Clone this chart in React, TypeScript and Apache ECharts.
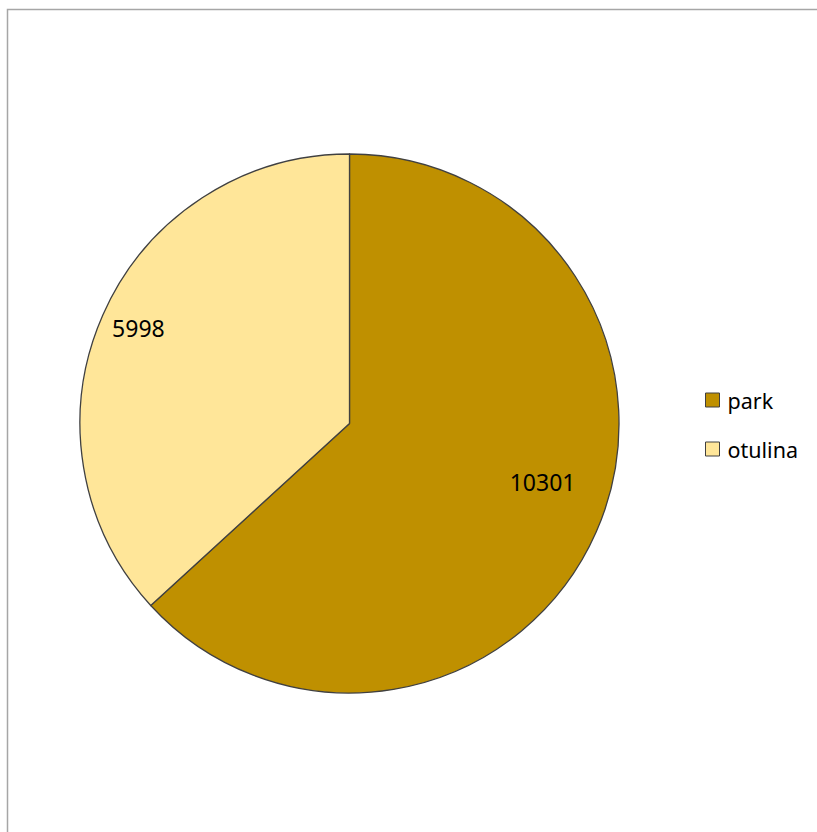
import React, { useEffect, useRef } from "react";
import * as echarts from "echarts";

const categories = ["park", "otulina"];
const values = [10301, 5998];
const colors = ["#BF9000", "#FFE699"];

export default function App() {
  const ref = useRef<HTMLDivElement>(null);
  useEffect(() => {
    if (!ref.current) return;
    const chart = echarts.init(ref.current, null, { renderer: "svg" });
    const labelOffsets = [
      [67, 3],
      [-85, -40],
    ];
    chart.setOption({
      animation: false,
      backgroundColor: "#ffffff",
      graphic: [
        {
          type: "rect",
          shape: { x: 7.5, y: 9.5, width: 900, height: 900 },
          style: { fill: "none", stroke: "#a6a6a6", lineWidth: 1.5 },
          silent: true,
        },
      ],
      legend: {
        orient: "vertical",
        left: 705,
        top: 389,
        padding: 0,
        itemWidth: 14,
        itemHeight: 14,
        itemGap: 27,
        icon: "rect",
        data: categories,
        textStyle: {
          fontFamily: "Noto Sans",
          fontSize: 21.5,
          color: "#000000",
          padding: [0, 0, 0, 3],
        },
        itemStyle: { borderColor: "#404040", borderWidth: 1 },
      },
      series: [
        {
          type: "pie",
          center: [349.5, 423.5],
          radius: 269.5,
          startAngle: 90,
          clockwise: true,
          avoidLabelOverlap: false,
          itemStyle: { borderColor: "#404040", borderWidth: 1.3 },
          emphasis: { disabled: true },
          label: {
            show: true,
            position: "inside",
            formatter: "{c}",
            fontFamily: "Noto Sans",
            fontSize: 23,
            color: "#000000",
          },
          labelLine: { show: false },
          data: categories.map((name, i) => ({
            name,
            value: values[i],
            itemStyle: { color: colors[i] },
            label: { offset: labelOffsets[i] },
          })),
        },
      ],
    });
    return () => chart.dispose();
  }, []);
  return (
    <div
      ref={ref}
      style={{ position: "absolute", left: 0, top: 0, width: 817, height: 832 }}
    />
  );
}
